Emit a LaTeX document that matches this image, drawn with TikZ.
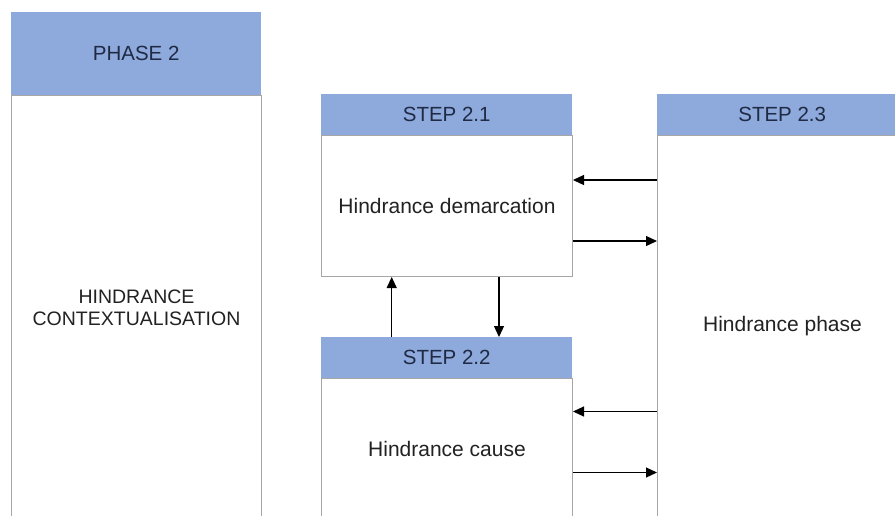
\documentclass[tikz,border=0pt]{standalone}
\usepackage{fontspec}
\setmainfont{Liberation Sans}
\usetikzlibrary{arrows.meta}

\definecolor{hdrblue}{HTML}{8EA9DB}
\definecolor{hdrtext}{HTML}{1F2A44}
\definecolor{boxline}{HTML}{A6A6A6}
\definecolor{bodytext}{HTML}{222222}

\begin{document}
\begin{tikzpicture}[x=1pt,y=-1pt,
  hdr/.style={fill=hdrblue,draw=none,inner sep=0pt,anchor=north west,
    text=hdrtext,font=\fontsize{20.5}{23}\selectfont},
  body/.style={draw=boxline,line width=1pt,fill=white,inner sep=0pt,anchor=north west,
    align=center,text=bodytext,font=\fontsize{21}{23}\selectfont},
  link/.style={-{Triangle[length=11pt,width=10pt]},line width=1.2pt,black}]
\useasboundingbox (0,0) rectangle (895,515);
\clip (0,0) rectangle (895,515);
% phase column
\node[body,minimum width=250pt,minimum height=424pt] (phb) at (11,95)
  {\fontsize{19.5}{23}\selectfont HINDRANCE\\[-1pt]\fontsize{19.5}{23}\selectfont CONTEXTUALISATION};
\node[hdr,minimum width=250pt,minimum height=83pt] (ph) at (11,12) {PHASE 2};
% step 2.1
\node[body,minimum width=251pt,minimum height=141pt] (b21) at (321,135) {Hindrance demarcation};
\node[hdr,minimum width=251pt,minimum height=41pt] (h21) at (321,94) {STEP 2.1};
% step 2.2
\node[body,minimum width=251pt,minimum height=140pt] (b22) at (321,378) {Hindrance cause};
\node[hdr,minimum width=251pt,minimum height=41pt] (h22) at (321,337) {STEP 2.2};
% step 2.3
\node[body,minimum width=250pt,minimum height=382pt] (b23) at (657,135) {Hindrance phase};
\node[hdr,minimum width=250pt,minimum height=41pt] (h23) at (657,94) {STEP 2.3};
% links between the steps
\draw[link] ([yshift=26pt]b21.east -| b23.west) -- ([yshift=26pt]b21.east);
\draw[link] ([yshift=-35pt]b21.east) -- ([yshift=-35pt]b21.east -| b23.west);
\draw[link] ([yshift=37pt]b22.east -| b23.west) -- ([yshift=37pt]b22.east);
\draw[link] ([yshift=-24pt]b22.east) -- ([yshift=-24pt]b22.east -| b23.west);
\draw[link] ([xshift=-55pt]h22.north) -- ([xshift=-55pt]h22.north |- b21.south);
\draw[link] ([xshift=52pt]b21.south) -- ([xshift=52pt]b21.south |- h22.north);
\end{tikzpicture}
\end{document}
